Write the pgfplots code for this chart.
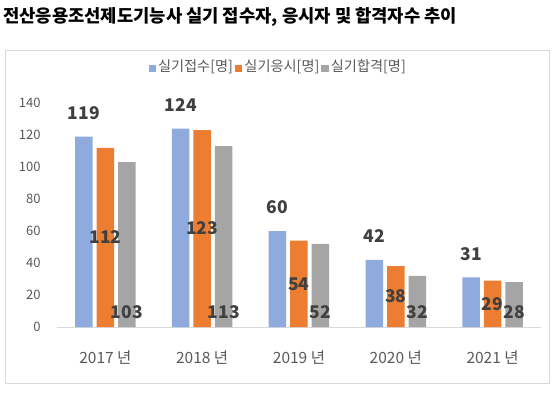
\documentclass[border=0pt]{standalone}
\usepackage{pgfplots}
\pgfplotsset{compat=1.18}
\usepackage{fontspec}
\setmainfont{Noto Sans CJK KR}
\definecolor{sblue}{HTML}{8FAADC}
\definecolor{sorange}{HTML}{ED7D31}
\definecolor{sgray}{HTML}{A5A5A5}
\definecolor{txtgray}{HTML}{595959}
\definecolor{lblgray}{HTML}{404040}
\definecolor{linegray}{HTML}{D9D9D9}
\begin{document}
\begin{tikzpicture}
\path[use as bounding box] (0pt,0pt) rectangle (558pt,392pt);
\draw[linegray, line width=0.8pt] (5pt,9pt) rectangle (549pt,342pt);
\node[anchor=west, inner sep=0pt] at (3pt,375pt) {\fontsize{17.7}{20}\selectfont\bfseries 전산응용조선제도기능사 실기 접수자, 응시자 및 합격자수 추이};
\begin{axis}[
  at={(57pt,65pt)}, anchor=south west,
  scale only axis, width=484pt, height=224pt,
  ybar=4pt, bar width=17.5pt,
  xmin=-0.5, xmax=4.5, ymin=0, ymax=140,
  xtick={0,1,2,3,4},
  xticklabels={2017 년,2018 년,2019 년,2020 년,2021 년},
  ytick={0,20,...,140},
  axis x line*=bottom, axis y line*=left,
  y axis line style={draw=none},
  x axis line style={linegray, line width=0.8pt},
  major tick length=0pt,
  /pgf/number format/assume math mode=true,
  yticklabel shift=13pt,
  yticklabel style={font=\fontsize{13}{15}\selectfont, text=txtgray},
  xticklabel style={font=\fontsize{15.5}{18}\selectfont, text=txtgray, anchor=center, yshift=-31pt},
  legend style={at={(axis description cs:0.457,1.162)}, anchor=center, draw=none, fill=none,
    font=\fontsize{14.2}{16}\selectfont, text=txtgray, legend columns=3,
    /tikz/every even column/.append style={column sep=0pt}},
  legend image code/.code={\path[#1, draw=none] (0pt,-5.5pt) rectangle (7.5pt,2pt);},
  nodes near coords,
  every node near coord/.append style={font=\fontsize{17.5}{20}\selectfont\bfseries, text=lblgray, anchor=center, inner sep=0pt},
  visualization depends on={rawy \as \rawy},
]
\addplot+[fill=sblue, draw=none, every node near coord/.append style={yshift=23.5pt}]
  coordinates {(0,119) (1,124) (2,60) (3,42) (4,31)};
\addplot+[fill=sorange, draw=none, every node near coord/.append style={yshift={-0.8*\rawy}}]
  coordinates {(0,112) (1,123) (2,54) (3,38) (4,29)};
\addplot+[fill=sgray, draw=none, every node near coord/.append style={yshift={15.3-1.6*\rawy}}]
  coordinates {(0,103) (1,113) (2,52) (3,32) (4,28)};
\legend{실기접수[명],실기응시[명],실기합격[명]}
\end{axis}
\end{tikzpicture}
\end{document}
